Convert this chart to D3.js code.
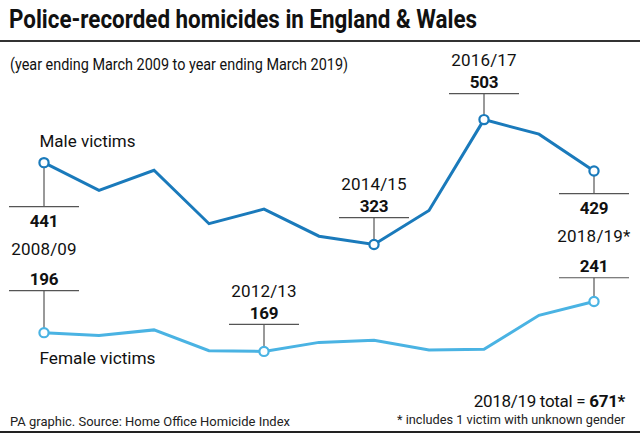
<!DOCTYPE html>
<html>
<head>
<meta charset="utf-8">
<script src="https://cdn.jsdelivr.net/npm/d3@7"></script>
<style>
  html, body { margin: 0; padding: 0; background: #fff; }
  svg { display: block; font-family: Roboto, "Liberation Sans", sans-serif; }
</style>
</head>
<body>
<svg id="chart" width="640" height="437"></svg>
<script>
// ---- data ----
const years = ["2008/09","2009/10","2010/11","2011/12","2012/13","2013/14","2014/15","2015/16","2016/17","2017/18","2018/19*"];
const maleVictims   = [441, 401, 430, 353, 374, 335, 323, 372, 503, 482, 429];
const femaleVictims = [196, 192, 200, 170, 169, 182, 185, 171, 172, 221, 241];
// highlighted points (year indices)
const maleHighlights   = [0, 6, 8, 10];
const femaleHighlights = [0, 4, 10];
const totalLabel = "671*";

// ---- layout ----
const W = 640, H = 437;
const svg = d3.select("#chart");
const x = d3.scaleLinear().domain([0, years.length - 1]).range([44, 594]);
const y = d3.scaleLinear().domain([150, 520]).range([364.6, 107.8]);

const maleColor = "#1a7abb";
const femaleColor = "#4ab3e3";
const ruleColor = "#555";

// title
svg.append("text").attr("x", 9).attr("y", 27.5)
  .attr("font-size", 25.5).attr("font-weight", 700).attr("fill", "#111")
  .attr("textLength", 468).attr("lengthAdjust", "spacingAndGlyphs")
  .text("Police-recorded homicides in England & Wales");
svg.append("line").attr("x1", 0).attr("x2", W).attr("y1", 41).attr("y2", 41)
  .attr("stroke", "#333").attr("stroke-width", 2);

// subtitle
svg.append("text").attr("x", 10).attr("y", 70)
  .attr("font-size", 17).attr("fill", "#111")
  .attr("textLength", 338).attr("lengthAdjust", "spacingAndGlyphs")
  .text("(year ending March 2009 to year ending March 2019)");

// callout geometry per highlighted point: offset of horizontal rule from point, label side
const callouts = {
  male: { 0: {dy: 44, below: true}, 6: {dy: -27, below: false}, 8: {dy: -26, below: false}, 10: {dy: 22.7, below: true} },
  female: { 0: {dy: -42, below: false, noYear: true}, 4: {dy: -27, below: false}, 10: {dy: -23.7, below: false, noYear: true} }
};

function drawCallouts(values, highlights, cfg) {
  const g = svg.append("g");
  highlights.forEach(i => {
    const c = cfg[i];
    const px = x(i), py = y(values[i]);
    const hy = py + c.dy;
    g.append("line").attr("x1", px).attr("x2", px).attr("y1", py).attr("y2", hy)
      .attr("stroke", ruleColor).attr("stroke-width", 1.2);
    g.append("line").attr("x1", px - 35).attr("x2", px + 35).attr("y1", hy).attr("y2", hy)
      .attr("stroke", ruleColor).attr("stroke-width", 1.2);
    const numY = c.below ? hy + 20.5 : hy - 5.3;
    g.append("text").attr("x", px).attr("y", numY).attr("text-anchor", "middle")
      .attr("font-size", 17).attr("font-weight", 700).attr("fill", "#111")
      .attr("letter-spacing", -0.2)
      .text(values[i]);
    if (!c.noYear) {
      const yrY = c.below ? hy + 48.3 : hy - 27.5;
      g.append("text").attr("x", px).attr("y", yrY).attr("text-anchor", "middle")
        .attr("font-size", 17).attr("fill", "#111").attr("letter-spacing", 0.2)
        .text(years[i]);
    }
  });
}

drawCallouts(maleVictims, maleHighlights, callouts.male);
drawCallouts(femaleVictims, femaleHighlights, callouts.female);

const line = d3.line().x((d, i) => x(i)).y(d => y(d));

function drawSeries(values, highlights, color) {
  svg.append("path").datum(values).attr("d", line)
    .attr("fill", "none").attr("stroke", color).attr("stroke-width", 3)
    .attr("stroke-linejoin", "miter");
  svg.append("g").selectAll("circle").data(highlights).join("circle")
    .attr("cx", i => x(i)).attr("cy", i => y(values[i])).attr("r", 4.6)
    .attr("fill", "#fff").attr("stroke", color).attr("stroke-width", 2.2);
}
drawSeries(maleVictims, maleHighlights, maleColor);
drawSeries(femaleVictims, femaleHighlights, femaleColor);

// series labels
svg.append("text").attr("x", 39.5).attr("y", 147).attr("font-size", 17).attr("fill", "#111")
  .attr("textLength", 96).attr("lengthAdjust", "spacingAndGlyphs").text("Male victims");
svg.append("text").attr("x", 39.5).attr("y", 364).attr("font-size", 17).attr("fill", "#111")
  .attr("textLength", 116).attr("lengthAdjust", "spacingAndGlyphs").text("Female victims");

// total
const tot = svg.append("text").attr("x", 625).attr("y", 407).attr("text-anchor", "end")
  .attr("font-size", 17).attr("fill", "#111").attr("letter-spacing", -0.3);
tot.append("tspan").text("2018/19 total = ");
tot.append("tspan").attr("font-weight", 700).text(totalLabel);

svg.append("text").attr("x", 625).attr("y", 424.3).attr("text-anchor", "end")
  .attr("font-size", 13.5).attr("fill", "#222")
  .attr("textLength", 228).attr("lengthAdjust", "spacingAndGlyphs")
  .text("* includes 1 victim with unknown gender");

// source
svg.append("text").attr("x", 10).attr("y", 425.7)
  .attr("font-size", 13.5).attr("fill", "#222")
  .attr("textLength", 280).attr("lengthAdjust", "spacingAndGlyphs")
  .text("PA graphic. Source: Home Office Homicide Index");

svg.append("line").attr("x1", 0).attr("x2", W).attr("y1", 432).attr("y2", 432)
  .attr("stroke", "#222").attr("stroke-width", 2);
</script>
</body>
</html>
